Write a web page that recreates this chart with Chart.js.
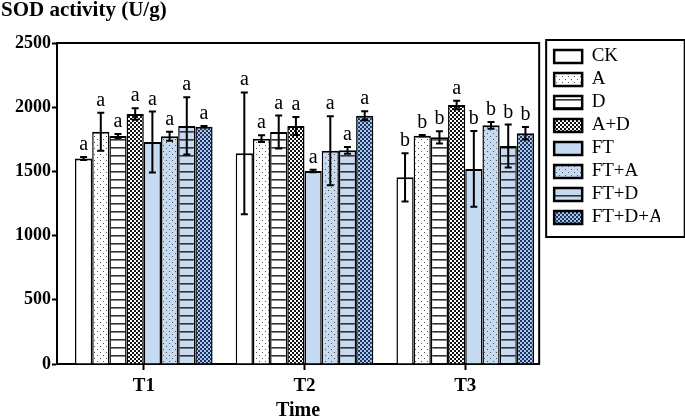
<!DOCTYPE html>
<html>
<head>
<meta charset="utf-8">
<script src="https://cdn.jsdelivr.net/npm/chart.js@4.4.1/dist/chart.umd.min.js"></script>
<style>
html,body{margin:0;padding:0;background:#fff;}
#wrap{width:685px;height:417px;position:relative;}
</style>
</head>
<body>
<div id="wrap"><canvas id="c"></canvas></div>
<script>
// ---- data ----
const timePoints = ['T1', 'T2', 'T3'];
const treatments = ['CK', 'A', 'D', 'A+D', 'FT', 'FT+A', 'FT+D', 'FT+D+A'];
const yTicks = [0, 500, 1000, 1500, 2000, 2500];

const meanCK    = [1600, 1641, 1454];
const meanA     = [1808, 1755, 1778];
const meanD     = [1776, 1807, 1765];
const meanAD    = [1947, 1854, 2017];
const meanFT    = [1729, 1503, 1519];
const meanFTA   = [1773, 1661, 1859];
const meanFTD   = [1854, 1664, 1698];
const meanFTDA  = [1848, 1934, 1797];

const errCK    = [12, 474, 188];
const errA     = [148, 26, 5];
const errD     = [15, 128, 48];
const errAD    = [45, 70, 33];
const errFT    = [237, 10, 295];
const errFTA   = [35, 268, 26];
const errFTD   = [223, 26, 167];
const errFTDA  = [5, 35, 48];

const letCK   = ['a', 'a', 'b'];
const letA    = ['a', 'a', 'b'];
const letD    = ['a', 'a', 'b'];
const letAD   = ['a', 'a', 'a'];
const letFT   = ['a', 'a', 'b'];
const letFTA  = ['a', 'a', 'b'];
const letFTD  = ['a', 'a', 'b'];
const letFTDA = ['a', 'a', 'b'];

const means   = [meanCK, meanA, meanD, meanAD, meanFT, meanFTA, meanFTD, meanFTDA];
const errs    = [errCK, errA, errD, errAD, errFT, errFTA, errFTD, errFTDA];
const letters = [letCK, letA, letD, letAD, letFT, letFTA, letFTD, letFTDA];

// ---- patterns ----
const SERIF = "'Liberation Serif', 'Times New Roman', serif";
const WHITE = '#ffffff';
const LBLUE = '#c6dbf2';

function tile(w, h, draw) {
  const c = document.createElement('canvas');
  c.width = w; c.height = h;
  const g = c.getContext('2d');
  draw(g);
  return document.createElement('canvas').getContext('2d').createPattern(c, 'repeat');
}
function dots(bg) {
  return tile(6, 6, g => {
    g.fillStyle = bg; g.fillRect(0, 0, 6, 6);
    g.fillStyle = '#555'; g.fillRect(1, 1, 1, 1); g.fillRect(4, 4, 1, 1);
  });
}
function stripes(bg) {
  return tile(8, 8, g => {
    g.fillStyle = bg; g.fillRect(0, 0, 8, 8);
    g.fillStyle = '#333'; g.fillRect(0, 3, 8, 1.6);
  });
}
function checker(a, b) {
  return tile(4, 4, g => {
    g.fillStyle = b; g.fillRect(0, 0, 4, 4);
    g.fillStyle = a; g.fillRect(0, 0, 2, 2); g.fillRect(2, 2, 2, 2);
  });
}
const fills = [
  WHITE, dots(WHITE), stripes(WHITE), checker('#111', '#fff'),
  LBLUE, dots(LBLUE), stripes(LBLUE), checker('#1c3460', '#a9c6ea')
];

// ---- plugins ----
const annotate = {
  id: 'annotate',
  afterDatasetsDraw(chart) {
    const ctx = chart.ctx, ys = chart.scales.y;
    ctx.save();
    ctx.strokeStyle = '#000'; ctx.lineWidth = 2; ctx.lineCap = 'butt';
    ctx.fillStyle = '#000';
    ctx.font = '20px ' + SERIF;
    ctx.textAlign = 'center'; ctx.textBaseline = 'alphabetic';
    means.forEach((m, d) => {
      const meta = chart.getDatasetMeta(d);
      meta.data.forEach((bar, i) => {
        const x = bar.x;
        const top = ys.getPixelForValue(m[i] + errs[d][i]);
        const bot = ys.getPixelForValue(m[i] - errs[d][i]);
        ctx.beginPath();
        ctx.moveTo(x, top); ctx.lineTo(x, bot);
        ctx.moveTo(x - 3.5, top); ctx.lineTo(x + 3.5, top);
        ctx.moveTo(x - 3.5, bot); ctx.lineTo(x + 3.5, bot);
        ctx.stroke();
        ctx.fillText(letters[d][i], x, Math.min(top, bar.y) - 7);
      });
    });
    ctx.restore();
  },
  afterDraw(chart) {
    const ctx = chart.ctx, a = chart.chartArea;
    ctx.save();
    ctx.strokeStyle = '#000'; ctx.lineWidth = 2;
    ctx.beginPath();
    ctx.moveTo(a.left - 1, a.top); ctx.lineTo(a.right, a.top); ctx.lineTo(a.right, a.bottom);
    ctx.stroke();
    const hb = chart.legend.legendHitBoxes;
    if (hb && hb.length) {
      let l = Infinity, r = -Infinity;
      hb.forEach(h => { l = Math.min(l, h.left); r = Math.max(r, h.left + h.width); });
      const t = hb[0].top, b = hb[hb.length - 1].top + hb[hb.length - 1].height;
      ctx.strokeRect(l - 8, t - 7, (r + 22) - (l - 8), (b + 10) - (t - 7));
    }
    ctx.restore();
  }
};

// ---- chart ----
new Chart(document.getElementById('c'), {
  type: 'bar',
  data: {
    datasets: treatments.map((name, d) => ({
      label: name,
      data: means[d].map((v, i) => ({ x: i, y: v })),
      backgroundColor: fills[d],
      borderColor: '#000',
      borderWidth: { top: 2, left: 1.5, right: 1.5, bottom: 0 },
      borderSkipped: 'start'
    }))
  },
  options: {
    responsive: true,
    maintainAspectRatio: false,
    animation: false,
    layout: { padding: { left: 1, right: 25, top: 0, bottom: 0 } },
    datasets: { bar: { categoryPercentage: 0.856, barPercentage: 1 } },
    scales: {
      x: {
        type: 'linear',
        min: -0.54, max: 2.46,
        offset: false,
        grid: { display: true, drawOnChartArea: false, drawTicks: true, tickLength: 6, tickWidth: 2, tickColor: '#000', offset: false },
        border: { display: true, color: '#000', width: 2 },
        afterBuildTicks: s => { s.ticks = timePoints.map((t, i) => ({ value: i })); },
        ticks: {
          autoSkip: false, maxRotation: 0, padding: 5, color: '#000',
          font: { family: SERIF, size: 19, weight: 'bold' },
          callback: v => timePoints[v]
        },
        title: {
          display: true, text: 'Time', color: '#000',
          font: { family: SERIF, size: 20, weight: 'bold', lineHeight: 0.8 },
          padding: { top: 0, bottom: -2 }
        },
        afterFit: s => { s.height = 53; }
      },
      y: {
        position: 'left',
        min: 0, max: 2500,
        afterBuildTicks: s => { s.ticks = yTicks.map(v => ({ value: v })); },
        grid: { display: true, drawOnChartArea: false, drawTicks: true, tickLength: 5, tickWidth: 2, tickColor: '#000' },
        border: { display: true, color: '#000', width: 2 },
        ticks: { padding: 1, color: '#000', font: { family: SERIF, size: 18, weight: 'bold' }, callback: v => String(v) },
        afterFit: s => { s.width = 56; }
      },
      y2: {
        position: 'right',
        display: true,
        grid: { display: false },
        border: { display: false },
        ticks: { display: false },
        afterFit: s => { s.width = 11; }
      }
    },
    plugins: {
      title: {
        display: true, text: 'SOD activity (U/g)', align: 'start', color: '#000',
        font: { family: SERIF, size: 21, weight: 'bold', lineHeight: 1 },
        padding: { top: 0, bottom: 22 }
      },
      legend: {
        display: true, position: 'right', align: 'start', fullSize: false,
        labels: {
          color: '#000', boxWidth: 28, boxHeight: 13, padding: 4,
          font: { family: SERIF, size: 19 },
          generateLabels: chart => Chart.defaults.plugins.legend.labels.generateLabels(chart)
            .map(l => Object.assign(l, { lineWidth: 2.5, strokeStyle: '#000' }))
        }
      },
      tooltip: { enabled: false }
    }
  },
  plugins: [annotate]
});
</script>
</body>
</html>
